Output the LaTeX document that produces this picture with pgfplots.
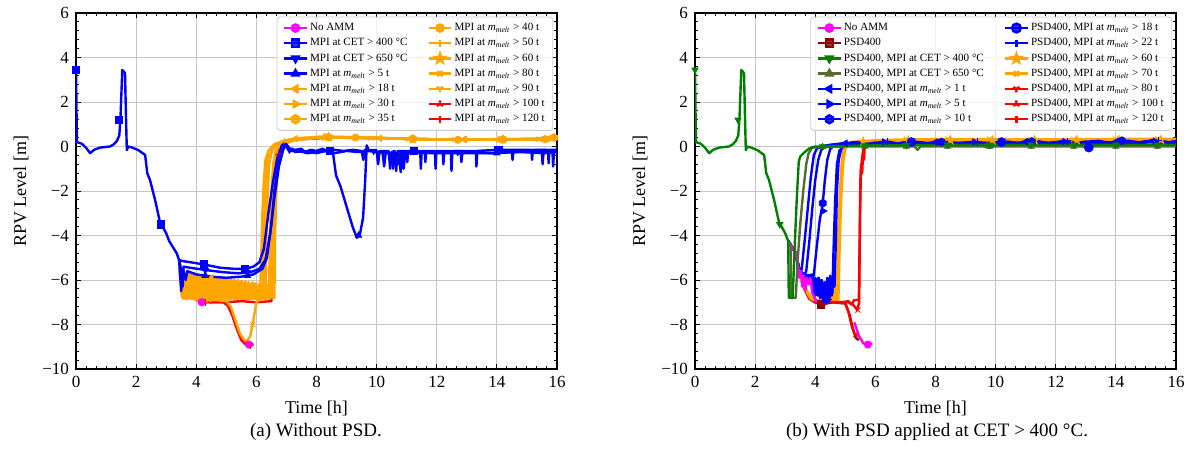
\documentclass[border=0pt]{standalone}
\usepackage{fontspec}
\setmainfont{Liberation Serif}
\usepackage{pgfplots}
\pgfplotsset{compat=1.18}
\usetikzlibrary{plotmarks}

\definecolor{cOr}{RGB}{255,165,0}
\definecolor{cDr}{RGB}{139,0,0}
\definecolor{cGr}{RGB}{0,128,0}
\definecolor{cOl}{RGB}{85,107,47}
\definecolor{cBl}{RGB}{0,0,255}
\definecolor{cMa}{RGB}{255,0,255}
\definecolor{cRe}{RGB}{255,0,0}

\pgfdeclareplotmark{hexagon*}{%
  \pgfpathmoveto{\pgfpointpolar{90}{1.1\pgfplotmarksize}}%
  \pgfpathlineto{\pgfpointpolar{150}{1.1\pgfplotmarksize}}%
  \pgfpathlineto{\pgfpointpolar{210}{1.1\pgfplotmarksize}}%
  \pgfpathlineto{\pgfpointpolar{270}{1.1\pgfplotmarksize}}%
  \pgfpathlineto{\pgfpointpolar{330}{1.1\pgfplotmarksize}}%
  \pgfpathlineto{\pgfpointpolar{30}{1.1\pgfplotmarksize}}%
  \pgfpathclose\pgfusepathqfillstroke}
\pgfdeclareplotmark{fstar*}{%
  \pgfpathmoveto{\pgfpointpolar{90}{1.25\pgfplotmarksize}}%
  \pgfpathlineto{\pgfpointpolar{126}{0.5\pgfplotmarksize}}%
  \pgfpathlineto{\pgfpointpolar{162}{1.25\pgfplotmarksize}}%
  \pgfpathlineto{\pgfpointpolar{198}{0.5\pgfplotmarksize}}%
  \pgfpathlineto{\pgfpointpolar{234}{1.25\pgfplotmarksize}}%
  \pgfpathlineto{\pgfpointpolar{270}{0.5\pgfplotmarksize}}%
  \pgfpathlineto{\pgfpointpolar{306}{1.25\pgfplotmarksize}}%
  \pgfpathlineto{\pgfpointpolar{342}{0.5\pgfplotmarksize}}%
  \pgfpathlineto{\pgfpointpolar{18}{1.25\pgfplotmarksize}}%
  \pgfpathlineto{\pgfpointpolar{54}{0.5\pgfplotmarksize}}%
  \pgfpathclose\pgfusepathqfillstroke}

\newcommand{\mm}{\textit{m}\textsubscript{\textit{melt}}}

\pgfplotsset{
  dl/.style={line width=1.2pt, mark=none, line join=round, forget plot},
  mk/.style={only marks, mark size=1.8pt, forget plot},
  li/.style={line width=1.2pt, mark size=1.8pt},
  rpv/.style={
    scale only axis, width=240.5pt, height=178pt,
    xmin=0, xmax=16, ymin=-10, ymax=6,
    xtick={0,2,...,16}, ytick={-10,-8,...,6},
    yticklabels={−10,−8,−6,−4,−2,0,2,4,6},
    minor x tick num=5, minor y tick num=4,
    tick align=inside,
    major tick length=2.6pt, minor tick length=1.4pt,
    tick style={black, line width=0.5pt},
    grid=major, grid style={black!22, line width=0.5pt},
    axis line style={line width=0.6pt},
    tick label style={font=\fontsize{8.5}{10}\selectfont},
    label style={font=\fontsize{9}{11}\selectfont},
    xlabel={Time [h]}, ylabel={RPV Level [m]},
    /pgf/number format/assume math mode=true,
    legend columns=2,
    legend cell align=left,
    legend style={at={(rel axis cs:0.992,0.99)}, anchor=north east,
      font=\fontsize{5.55}{6.2}\selectfont, draw=black!20, rounded corners=1.5pt,
      fill=white, fill opacity=0.8, text opacity=1,
      nodes={inner sep=1pt, text height=3.9pt, text depth=1.2pt},
      row sep=0.5pt,
      /tikz/every even column/.append style={column sep=9pt}},
    legend image code/.code={\draw[mark repeat=2,mark phase=2] plot coordinates {(0cm,0cm) (0.2cm,0cm) (0.4cm,0cm)};},
  }
}

\begin{document}
\begin{tikzpicture}
\useasboundingbox (0,0) rectangle (599.5pt,236pt);
%================= (a) =================
\begin{axis}[rpv, at={(38pt,51.5pt)}, anchor=south west]
\addlegendimage{cMa, li, mark=*}\addlegendentry{No AMM}
\addlegendimage{cOr, li, mark=*}\addlegendentry{MPI at \mm{} > 40 t}
\addlegendimage{cBl, li, mark=square*}\addlegendentry{MPI at CET > 400 °C}
\addlegendimage{cOr, li, mark=+}\addlegendentry{MPI at \mm{} > 50 t}
\addlegendimage{cBl, li, mark=triangle*, mark options={rotate=180}}\addlegendentry{MPI at CET > 650 °C}
\addlegendimage{cOr, li, mark=fstar*}\addlegendentry{MPI at \mm{} > 60 t}
\addlegendimage{cBl, li, mark=triangle*}\addlegendentry{MPI at \mm{} > 5 t}
\addlegendimage{cOr, li, mark=x}\addlegendentry{MPI at \mm{} > 80 t}
\addlegendimage{cOr, li, mark=triangle*, mark options={rotate=90}}\addlegendentry{MPI at \mm{} > 18 t}
\addlegendimage{cOr, li, mark=Mercedes star flipped}\addlegendentry{MPI at \mm{} > 90 t}
\addlegendimage{cOr, li, mark=triangle*, mark options={rotate=-90}}\addlegendentry{MPI at \mm{} > 30 t}
\addlegendimage{cRe, li, mark=Mercedes star}\addlegendentry{MPI at \mm{} > 100 t}
\addlegendimage{cOr, li, mark=hexagon*}\addlegendentry{MPI at \mm{} > 35 t}
\addlegendimage{cRe, li, mark=|}\addlegendentry{MPI at \mm{} > 120 t}

% No AMM
\addplot[cMa, dl] coordinates {(3.43,-5.1) (3.47,-5.9) (3.52,-5.6) (3.57,-6.3) (3.62,-5.8) (3.67,-6.5) (3.72,-5.9) (3.78,-6.2) (3.84,-5.9) (3.9,-6.6) (4.0,-6.85) (4.2,-7.0) (4.6,-6.95) (5.0,-7.0) (5.15,-7.3) (5.3,-7.9) (5.45,-8.5) (5.6,-8.85) (5.75,-8.9) (5.9,-8.85)};
\addplot[cMa, mk, mark=*] coordinates {(4.18,-7.0) (5.75,-8.9)};
% >100
\addplot[cRe, dl] coordinates {(3.43,-5.1) (3.55,-6.1) (3.75,-6.5) (4.0,-6.9) (4.5,-7.0) (5.0,-7.0) (5.5,-6.95) (6.0,-7.0) (6.5,-6.95) (6.58,-4.0) (6.65,-1.5) (6.73,-0.3) (6.85,0.1) (7.2,0.3) (8.5,0.4) (10,0.37) (12,0.32) (14,0.32) (16,0.34)};
\addplot[cRe, mk, mark=Mercedes star] coordinates {(4.4,-7.0) (6.73,-0.3)};
% >120
\addplot[cRe, dl] coordinates {(3.43,-5.1) (3.55,-6.0) (3.7,-6.4) (3.9,-6.7) (4.1,-6.95) (4.5,-7.0) (4.9,-7.0) (5.05,-7.15) (5.2,-7.6) (5.35,-8.2) (5.5,-8.7) (5.65,-8.9) (5.8,-8.95) (5.9,-8.9)};
\addplot[cRe, mk, mark=|] coordinates {(4.3,-7.0) (5.8,-8.95)};
% >80
\addplot[cOr, dl] coordinates {(3.43,-5.1) (3.55,-6.4) (3.8,-6.8) (4.2,-6.95) (4.6,-6.9) (5.0,-6.95) (5.15,-7.2) (5.3,-7.8) (5.45,-8.4) (5.6,-8.7) (5.7,-8.75) (5.8,-8.5) (5.9,-7.8) (6.0,-7.0) (6.1,-6.9) (6.2,-6.8) (6.25,-3.5) (6.32,-1.0) (6.4,-0.2) (6.6,0.1) (7.0,0.25) (8,0.4) (9,0.4) (10,0.37) (12,0.32) (14,0.32) (16,0.35)};
\addplot[cOr, mk, mark=x] coordinates {(4.4,-6.9) (5.88,-8.0) (7.0,0.25) (9.8,0.37) (12.6,0.32) (15.4,0.33)};
% >18
\addplot[cOr, dl] coordinates {(3.43,-5.1) (3.5,-6.3) (3.55,-5.7) (3.6,-6.8) (3.66,-5.7) (3.72,-6.85) (3.78,-5.75) (3.84,-6.85) (3.9,-5.8) (3.96,-6.85) (4.02,-5.8) (4.08,-6.8) (4.14,-5.85) (4.2,-6.85) (4.26,-5.85) (4.32,-6.85) (4.38,-5.9) (4.44,-6.85) (4.5,-5.9) (4.56,-6.85) (4.62,-5.95) (4.68,-6.85) (4.74,-5.95) (4.8,-6.85) (4.86,-6.0) (4.92,-6.85) (4.98,-6.0) (5.04,-6.85) (5.1,-6.05) (5.16,-6.85) (5.22,-6.05) (5.28,-6.85) (5.34,-6.1) (5.4,-6.85) (5.46,-6.1) (5.52,-6.85) (5.58,-6.15) (5.64,-6.85) (5.7,-6.15) (5.76,-6.85) (5.82,-6.2) (5.88,-6.85) (5.94,-6.2) (6.0,-6.85) (6.06,-6.3) (6.12,-6.85) (6.16,-5.0) (6.2,-3.0) (6.25,-1.5) (6.3,-0.6) (6.4,-0.2) (6.6,0.1) (6.9,0.25) (7.3,0.35) (8.0,0.4) (9.0,0.4) (10.0,0.38) (11.0,0.35) (12.0,0.32) (13.0,0.32) (14.0,0.33) (15.0,0.33) (16,0.35)};
\addplot[cOr, mk, mark=triangle*, mark options={rotate=90}] coordinates {(4.5,-5.9) (7.3,0.35) (10.1,0.37) (12.9,0.32) (15.7,0.34)};
% >30
\addplot[cOr, dl] coordinates {(3.43,-5.1) (3.53,-6.7) (3.57,-5.6) (3.63,-6.85) (3.69,-5.65) (3.75,-6.8) (3.81,-5.7) (3.87,-6.85) (3.93,-5.75) (3.99,-6.8) (4.05,-5.75) (4.11,-6.85) (4.17,-5.8) (4.23,-6.8) (4.29,-5.8) (4.35,-6.85) (4.41,-5.85) (4.47,-6.8) (4.53,-5.85) (4.59,-6.85) (4.65,-5.9) (4.71,-6.8) (4.77,-5.9) (4.83,-6.85) (4.89,-5.95) (4.95,-6.8) (5.01,-5.95) (5.07,-6.85) (5.13,-6.0) (5.19,-6.8) (5.25,-6.0) (5.31,-6.85) (5.37,-6.05) (5.43,-6.8) (5.49,-6.05) (5.55,-6.85) (5.61,-6.1) (5.67,-6.8) (5.73,-6.1) (5.79,-6.85) (5.85,-6.15) (5.91,-6.8) (5.97,-6.15) (6.03,-6.85) (6.09,-6.2) (6.15,-6.85) (6.21,-6.25) (6.27,-6.8) (6.31,-4.5) (6.35,-2.5) (6.4,-1.0) (6.47,-0.3) (6.6,0.0) (6.9,0.25) (7.4,0.38) (8.3,0.45) (9.2,0.42) (10.2,0.38) (11.2,0.33) (12.3,0.3) (13.5,0.32) (14.6,0.33) (16,0.35)};
\addplot[cOr, mk, mark=triangle*, mark options={rotate=-90}] coordinates {(5.0,-6.3) (8.3,0.45) (11.2,0.33) (14.1,0.33)};
% >35
\addplot[cOr, dl] coordinates {(3.43,-5.1) (3.51,-6.0) (3.56,-6.85) (3.62,-5.9) (3.68,-6.85) (3.74,-5.95) (3.8,-6.85) (3.86,-6.0) (3.92,-6.85) (3.98,-6.0) (4.04,-6.85) (4.1,-6.05) (4.16,-6.85) (4.22,-6.05) (4.28,-6.85) (4.34,-6.1) (4.4,-6.85) (4.46,-6.1) (4.52,-6.85) (4.58,-6.15) (4.64,-6.85) (4.7,-6.15) (4.76,-6.85) (4.82,-6.2) (4.88,-6.85) (4.94,-6.2) (5.0,-6.85) (5.06,-6.25) (5.12,-6.85) (5.18,-6.25) (5.24,-6.85) (5.3,-6.3) (5.36,-6.85) (5.42,-6.3) (5.48,-6.85) (5.54,-6.35) (5.6,-6.85) (5.66,-6.35) (5.72,-6.85) (5.78,-6.4) (5.84,-6.85) (5.9,-6.4) (5.96,-6.85) (6.02,-6.4) (6.08,-6.85) (6.14,-6.45) (6.2,-6.85) (6.26,-6.45) (6.32,-6.85) (6.38,-6.5) (6.42,-6.8) (6.45,-4.0) (6.5,-2.0) (6.56,-0.8) (6.65,-0.1) (6.8,0.15) (7.2,0.3) (8.0,0.42) (9.0,0.42) (10.0,0.4) (11.0,0.35) (12.0,0.32) (13.0,0.3) (14.0,0.32) (15.0,0.33) (16,0.4)};
\addplot[cOr, mk, mark=hexagon*] coordinates {(5.4,-6.6) (8.4,0.42) (11.2,0.35) (14.2,0.32) (15.9,0.4)};
% >40
\addplot[cOr, dl] coordinates {(3.43,-5.1) (3.47,-6.0) (3.53,-6.8) (3.59,-5.6) (3.65,-6.85) (3.71,-5.65) (3.77,-6.8) (3.83,-5.7) (3.89,-6.85) (3.95,-5.7) (4.01,-6.8) (4.07,-5.75) (4.13,-6.85) (4.19,-5.75) (4.25,-6.8) (4.31,-5.8) (4.37,-6.85) (4.43,-5.8) (4.49,-6.8) (4.55,-5.85) (4.61,-6.85) (4.67,-5.85) (4.73,-6.8) (4.79,-5.9) (4.85,-6.85) (4.91,-5.9) (4.97,-6.8) (5.03,-5.95) (5.09,-6.85) (5.15,-5.95) (5.21,-6.8) (5.27,-6.0) (5.33,-6.85) (5.39,-6.0) (5.45,-6.8) (5.51,-6.05) (5.57,-6.85) (5.63,-6.05) (5.69,-6.8) (5.75,-6.1) (5.81,-6.85) (5.87,-6.1) (5.93,-6.8) (5.99,-6.15) (6.05,-6.85) (6.11,-6.15) (6.17,-6.8) (6.23,-6.2) (6.29,-6.85) (6.35,-6.2) (6.41,-6.8) (6.47,-6.25) (6.52,-6.8) (6.55,-4.5) (6.6,-2.5) (6.65,-1.0) (6.72,-0.3) (6.85,0.05) (7.1,0.25) (7.6,0.38) (8.5,0.42) (9.5,0.4) (10.5,0.36) (11.5,0.32) (12.5,0.3) (13.5,0.31) (14.5,0.32) (15.5,0.33) (16,0.36)};
\addplot[cOr, mk, mark=*] coordinates {(5.9,-6.4) (9.3,0.4) (12.7,0.3) (15.6,0.33)};
% >50
\addplot[cOr, dl] coordinates {(3.43,-5.1) (3.6,-6.5) (3.8,-6.0) (4.0,-6.7) (4.3,-6.2) (4.6,-6.8) (4.9,-6.3) (5.2,-6.8) (5.5,-6.4) (5.8,-6.85) (6.1,-6.5) (6.3,-6.85) (6.35,-3.0) (6.42,-0.8) (6.55,0.0) (6.8,0.2) (7.5,0.35) (8.5,0.4) (10,0.38) (12,0.32) (14,0.32) (16,0.34)};
\addplot[cOr, mk, mark=+] coordinates {(4.6,-6.8) (8.5,0.4) (13.0,0.32)};
% >60
\addplot[cOr, dl] coordinates {(3.43,-5.1) (3.55,-6.2) (3.75,-6.8) (4.0,-6.1) (4.25,-6.85) (4.5,-6.3) (4.75,-6.85) (5.0,-6.4) (5.3,-6.85) (5.6,-6.5) (5.9,-6.85) (6.2,-6.6) (6.45,-6.85) (6.5,-3.5) (6.58,-1.0) (6.7,-0.1) (6.9,0.2) (7.5,0.35) (8.5,0.42) (10,0.38) (12,0.3) (14,0.31) (16,0.33)};
\addplot[cOr, mk, mark=fstar*] coordinates {(5.0,-6.4) (8.4,0.42) (11.2,0.33) (14.2,0.31)};
% >90
\addplot[cOr, dl] coordinates {(3.43,-5.1) (3.6,-6.0) (3.9,-6.6) (4.2,-6.2) (4.5,-6.8) (4.8,-6.4) (5.1,-6.85) (5.4,-6.5) (5.7,-6.85) (6.0,-6.6) (6.3,-6.85) (6.5,-6.7) (6.6,-6.8) (6.62,-4.0) (6.68,-1.5) (6.75,-0.3) (6.9,0.1) (7.3,0.3) (8.2,0.42) (9.5,0.4) (11,0.34) (13,0.3) (15,0.32) (16,0.36)};
\addplot[cOr, mk, mark=Mercedes star flipped] coordinates {(5.1,-6.85) (8.2,0.42) (11.0,0.34) (14.0,0.31)};
% CET>650
\addplot[cBl, dl] coordinates {(3.43,-5.1) (3.5,-5.6) (3.55,-6.3) (3.58,-5.4) (3.8,-5.45) (4.3,-5.55) (4.9,-5.65) (5.4,-5.7) (5.8,-5.65) (6.1,-5.5) (6.3,-5.1) (6.45,-4.0) (6.6,-2.3) (6.75,-0.9) (6.9,-0.1) (7.0,0.1) (7.15,-0.2) (7.4,-0.2) (7.7,-0.3) (8.0,-0.25) (8.3,-0.2) (8.6,-0.3) (9.0,-0.2) (9.4,-0.25) (9.8,-0.2) (10.2,-0.3) (10.25,-0.9) (10.3,-0.3) (10.75,-0.3) (10.8,-1.15) (10.85,-0.3) (10.9,-1.0) (10.95,-0.3) (11.6,-0.25) (11.62,-0.7) (11.65,-0.25) (12.2,-0.25) (12.22,-0.8) (12.25,-0.25) (13.0,-0.25) (13.8,-0.3) (14.5,-0.25) (14.52,-0.6) (14.55,-0.25) (15.4,-0.2) (15.85,-0.25) (15.87,-0.9) (15.9,-0.25) (16,-0.2)};
\addplot[cBl, mk, mark=triangle*, mark options={rotate=180}] coordinates {(4.3,-5.55) (5.7,-5.65) (7.1,-0.15) (9.9,-0.2) (12.7,-0.25) (15.5,-0.2)};
% mmelt>5
\addplot[cBl, dl] coordinates {(3.43,-5.1) (3.5,-6.5) (3.55,-5.5) (3.65,-6.0) (3.7,-5.6) (4.0,-5.75) (4.5,-5.85) (5.0,-5.9) (5.5,-5.85) (5.9,-5.75) (6.2,-5.5) (6.35,-5.0) (6.5,-3.5) (6.6,-2.0) (6.7,-1.0) (6.8,-0.4) (6.95,0.05) (7.1,-0.1) (7.3,-0.25) (7.6,-0.2) (8.0,-0.3) (8.3,-0.2) (8.55,-0.3) (8.65,-1.3) (8.8,-1.8) (9.0,-2.7) (9.2,-3.6) (9.34,-4.1) (9.45,-3.9) (9.55,-3.2) (9.62,-1.5) (9.67,0.05) (9.75,-0.2) (10.1,-0.25) (10.5,-0.3) (10.55,-1.0) (10.6,-0.3) (10.75,-0.8) (10.8,-0.3) (11.2,-0.25) (11.8,-0.3) (12.8,-0.3) (12.82,-0.7) (12.85,-0.3) (13.8,-0.3) (14.8,-0.25) (15.5,-0.3) (15.52,-0.8) (15.55,-0.3) (16,-0.25)};
\addplot[cBl, mk, mark=triangle*] coordinates {(4.3,-5.8) (5.7,-5.8) (9.4,-4.0) (11.2,-0.25) (14.0,-0.3)};
% CET>400
\addplot[cBl, dl] coordinates {(3.43,-5.1) (3.55,-5.15) (3.8,-5.2) (4.25,-5.3) (4.8,-5.45) (5.3,-5.5) (5.63,-5.5) (5.9,-5.4) (6.1,-5.2) (6.25,-4.6) (6.4,-3.0) (6.55,-1.6) (6.7,-0.5) (6.85,0.05) (6.95,0.15) (7.1,-0.1) (7.3,-0.15) (7.5,-0.1) (7.6,-0.25) (7.8,-0.15) (8.0,-0.2) (8.2,-0.1) (8.4,-0.25) (8.6,-0.15) (8.9,-0.2) (9.2,-0.15) (9.5,-0.2) (9.56,-0.6) (9.6,-0.15) (10.0,-0.2) (10.05,-0.8) (10.1,-0.2) (10.4,-0.2) (10.45,-1.0) (10.5,-0.25) (10.6,-0.2) (10.65,-1.1) (10.7,-0.2) (11.0,-0.2) (11.02,-0.7) (11.05,-0.2) (11.45,-0.2) (11.47,-1.0) (11.5,-0.2) (11.94,-0.2) (11.96,-1.0) (11.99,-0.2) (12.47,-0.2) (12.49,-1.1) (12.52,-0.2) (13.3,-0.2) (13.32,-0.9) (13.35,-0.2) (14.0,-0.15) (15.15,-0.15) (15.17,-0.6) (15.2,-0.15) (15.7,-0.15) (15.72,-0.75) (15.75,-0.15) (16,-0.15)};
\addplot[cBl, mk, mark=square*] coordinates {(4.25,-5.3) (5.63,-5.5) (8.45,-0.2) (11.25,-0.2) (14.05,-0.15)};
% base
\addplot[cBl, dl] coordinates {(0,3.45) (0.03,0.2) (0.2,0.12) (0.35,-0.08) (0.47,-0.3) (0.6,-0.15) (0.8,-0.05) (1.13,0.0) (1.26,0.1) (1.36,0.25) (1.44,0.5) (1.48,1.3) (1.54,3.44) (1.63,3.3) (1.66,1.5) (1.69,-0.16) (1.74,0.0) (1.85,-0.04) (2.07,-0.16) (2.3,-0.38) (2.37,-1.2) (2.46,-1.5) (2.63,-2.4) (2.79,-3.38) (3.0,-3.9) (3.1,-4.25) (3.35,-4.8) (3.43,-5.1)};
\addplot[cBl, mk, mark=square*] coordinates {(0,3.45) (1.43,1.2) (2.82,-3.5)};
\end{axis}
%================= (b) =================
\begin{axis}[rpv, at={(347.5pt,51.5pt)}, anchor=south west]
\addlegendimage{cMa, li, mark=*}\addlegendentry{No AMM}
\addlegendimage{cBl, li, mark=*, mark size=2.2pt}\addlegendentry{PSD400, MPI at \mm{} > 18 t}
\addlegendimage{cDr, li, mark=square*}\addlegendentry{PSD400}
\addlegendimage{cBl, li, mark=+}\addlegendentry{PSD400, MPI at \mm{} > 22 t}
\addlegendimage{cGr, li, mark=triangle*, mark options={rotate=180}}\addlegendentry{PSD400, MPI at CET > 400 °C}
\addlegendimage{cOr, li, mark=fstar*}\addlegendentry{PSD400, MPI at \mm{} > 60 t}
\addlegendimage{cOl, li, mark=triangle*}\addlegendentry{PSD400, MPI at CET > 650 °C}
\addlegendimage{cOr, li, mark=x}\addlegendentry{PSD400, MPI at \mm{} > 70 t}
\addlegendimage{cBl, li, mark=triangle*, mark options={rotate=90}}\addlegendentry{PSD400, MPI at \mm{} > 1 t}
\addlegendimage{cRe, li, mark=Mercedes star flipped}\addlegendentry{PSD400, MPI at \mm{} > 80 t}
\addlegendimage{cBl, li, mark=triangle*, mark options={rotate=-90}}\addlegendentry{PSD400, MPI at \mm{} > 5 t}
\addlegendimage{cRe, li, mark=Mercedes star}\addlegendentry{PSD400, MPI at \mm{} > 100 t}
\addlegendimage{cBl, li, mark=hexagon*}\addlegendentry{PSD400, MPI at \mm{} > 10 t}
\addlegendimage{cRe, li, mark=|}\addlegendentry{PSD400, MPI at \mm{} > 120 t}

% PSD400
\addplot[cDr, dl] coordinates {(3.1,-4.25) (3.35,-4.8) (3.43,-5.3) (3.6,-6.2) (3.85,-6.8) (4.0,-7.0) (4.2,-7.1) (4.6,-7.0) (5.0,-7.05) (5.15,-7.6) (5.25,-8.2) (5.35,-8.6) (5.45,-8.7)};
\addplot[cDr, mk, mark=square*] coordinates {(4.2,-7.1)};
% >100
\addplot[cRe, dl] coordinates {(3.1,-4.25) (3.35,-4.8) (3.43,-5.3) (3.6,-6.2) (3.8,-6.8) (4.0,-7.0) (4.5,-7.0) (5.0,-7.05) (5.1,-7.4) (5.2,-8.0) (5.3,-8.4) (5.38,-8.5)};
\addplot[cRe, mk, mark=x] coordinates {(5.35,-8.45)};
% >120
\addplot[cRe, dl] coordinates {(3.1,-4.25) (3.35,-4.8) (3.43,-5.3) (3.6,-6.3) (3.8,-6.85) (4.0,-7.0) (4.4,-6.95) (4.8,-7.0) (5.1,-7.0) (5.25,-7.1) (5.4,-7.35) (5.46,-7.0) (5.49,-3.0) (5.52,-1.0) (5.56,-0.5) (5.62,0.1) (6.0,0.15) (8,0.18) (10,0.2) (12,0.2) (14,0.2) (16,0.2)};
\addplot[cRe, mk, mark=x] coordinates {(5.42,-7.35)};
% >80
\addplot[cRe, dl] coordinates {(3.1,-4.25) (3.35,-4.8) (3.43,-5.3) (3.6,-6.2) (3.8,-6.8) (4.0,-7.0) (4.3,-7.0) (4.6,-6.95) (4.9,-7.0) (5.1,-6.95) (5.2,-7.1) (5.3,-6.9) (5.45,-6.9) (5.48,-4.0) (5.5,-1.5) (5.53,-0.8) (5.56,-1.2) (5.59,-0.3) (5.62,-0.6) (5.65,0.1) (5.8,0.15) (6.5,0.18) (8,0.18) (10,0.2) (12,0.2) (14,0.2) (16,0.2)};
\addplot[cRe, mk, mark=Mercedes star flipped] coordinates {(4.35,-7.0)};
% >60
\addplot[cOr, dl] coordinates {(3.1,-4.25) (3.35,-4.8) (3.43,-5.3) (3.55,-6.0) (3.7,-6.4) (3.85,-6.8) (4.0,-6.9) (4.2,-6.95) (4.3,-6.6) (4.36,-6.9) (4.42,-6.3) (4.48,-6.9) (4.54,-6.2) (4.6,-6.9) (4.66,-6.0) (4.72,-6.9) (4.76,-4.0) (4.82,-2.0) (4.88,-0.7) (4.95,-0.1) (5.1,0.15) (5.5,0.22) (6.5,0.25) (8,0.28) (10,0.28) (12,0.28) (14,0.3) (16,0.3)};
\addplot[cOr, mk, mark=fstar*] coordinates {(5.6,0.22) (7.1,0.27) (8.5,0.28) (9.9,0.28) (11.3,0.28) (12.7,0.29) (14.1,0.3) (15.5,0.3)};
% >70
\addplot[cOr, dl] coordinates {(3.1,-4.25) (3.35,-4.8) (3.43,-5.3) (3.55,-6.1) (3.7,-6.5) (3.85,-6.85) (4.0,-6.9) (4.2,-6.9) (4.35,-6.5) (4.41,-6.9) (4.47,-6.2) (4.53,-6.9) (4.59,-6.1) (4.65,-6.9) (4.71,-6.0) (4.77,-6.9) (4.82,-4.0) (4.88,-1.8) (4.94,-0.6) (5.0,-0.1) (5.2,0.2) (6,0.28) (7,0.32) (8,0.33) (10,0.33) (12,0.32) (14,0.34) (16,0.35)};
\addplot[cOr, mk, mark=x] coordinates {(7.03,0.35) (8.4,0.35) (9.8,0.35) (11.18,0.33) (12.6,0.33) (14.0,0.35) (15.4,0.35)};
% >22
\addplot[cBl, dl] coordinates {(3.1,-4.25) (3.35,-4.8) (3.43,-5.3) (3.5,-5.6) (3.65,-5.75) (3.8,-5.8) (3.9,-5.75) (3.95,-6.5) (4.0,-5.9) (4.05,-6.6) (4.1,-5.9) (4.15,-6.8) (4.2,-6.0) (4.25,-6.85) (4.3,-6.1) (4.35,-6.8) (4.4,-5.9) (4.45,-6.85) (4.5,-5.8) (4.55,-6.7) (4.6,-5.9) (4.64,-6.3) (4.68,-4.5) (4.72,-2.0) (4.78,-0.6) (4.87,-0.1) (5.0,0.1) (5.4,0.2) (5.9,0.08) (6.4,0.22) (6.9,0.1) (7.4,0.2) (7.9,0.12) (8.4,0.22) (8.9,0.1) (9.4,0.2) (9.9,0.08) (10.4,0.22) (10.9,0.12) (11.4,0.24) (11.9,0.12) (12.4,0.24) (12.9,0.14) (13.4,0.26) (13.9,0.14) (14.4,0.26) (14.9,0.16) (15.4,0.28) (15.9,0.16) (16,0.2)};
\addplot[cBl, mk, mark=+] coordinates {(4.45,-6.85) (6.4,0.22) (9.4,0.2) (12.4,0.24) (15.4,0.28)};
% >18
\addplot[cBl, dl] coordinates {(3.1,-4.25) (3.35,-4.8) (3.43,-5.3) (3.5,-5.65) (3.65,-5.8) (3.8,-5.85) (3.92,-5.8) (3.97,-6.8) (4.02,-6.0) (4.07,-6.7) (4.12,-5.9) (4.17,-6.8) (4.22,-6.0) (4.27,-6.9) (4.32,-6.1) (4.37,-6.85) (4.42,-6.0) (4.47,-6.8) (4.52,-5.9) (4.57,-6.6) (4.6,-5.0) (4.66,-2.5) (4.72,-0.8) (4.8,-0.2) (4.95,0.05) (5.2,0.12) (5.7,0.02) (6.2,0.18) (6.7,0.06) (7.2,0.2) (7.7,0.08) (8.2,0.2) (8.7,0.06) (9.2,0.2) (9.7,-0.02) (10.2,0.2) (10.7,0.1) (11.2,0.22) (11.7,0.1) (12.2,0.22) (12.7,0.1) (13.1,-0.07) (13.3,0.22) (13.7,0.12) (14.2,0.24) (14.7,0.12) (15.2,0.26) (15.7,0.14) (16,0.25)};
\addplot[cBl, mk, mark=*, mark size=2.2pt] coordinates {(4.37,-6.85) (7.2,0.2) (10.2,0.2) (13.1,-0.05)};
% >10
\addplot[cBl, dl] coordinates {(3.1,-4.25) (3.35,-4.8) (3.43,-5.3) (3.5,-5.7) (3.6,-5.9) (3.8,-5.95) (3.95,-5.8) (4.05,-4.5) (4.15,-3.3) (4.25,-2.55) (4.32,-1.5) (4.4,-0.6) (4.5,-0.1) (4.7,0.1) (5.2,0.18) (5.7,0.06) (6.2,0.2) (6.7,0.1) (7.2,0.2) (7.7,0.08) (8.2,0.2) (8.7,0.1) (9.2,0.2) (9.7,0.08) (10.2,0.2) (10.7,0.12) (11.2,0.22) (11.7,0.12) (12.2,0.24) (12.7,0.12) (13.2,0.24) (13.7,0.14) (14.2,0.26) (14.7,0.14) (15.2,0.28) (15.7,0.16) (16,0.22)};
\addplot[cBl, mk, mark=hexagon*] coordinates {(4.25,-2.55) (8.2,0.2) (11.2,0.22) (14.2,0.26)};
% >5
\addplot[cBl, dl] coordinates {(3.1,-4.25) (3.35,-4.8) (3.43,-5.3) (3.5,-5.8) (3.6,-5.9) (3.7,-5.6) (3.8,-4.3) (3.9,-2.8) (4.0,-1.5) (4.1,-0.6) (4.2,-0.15) (4.4,0.05) (5.0,0.1) (5.3,0.2) (5.8,0.08) (6.3,0.2) (6.8,0.1) (7.3,0.22) (7.8,0.12) (8.3,0.2) (8.8,0.1) (9.3,0.2) (9.8,-0.05) (10.3,0.2) (10.8,0.12) (11.3,0.22) (11.8,0.12) (12.3,0.22) (12.8,0.12) (13.3,0.24) (13.8,0.12) (14.3,0.24) (14.8,0.14) (15.3,0.25) (15.8,0.14) (16,0.22)};
\addplot[cBl, mk, mark=triangle*, mark options={rotate=-90}] coordinates {(4.27,-2.9) (6.3,0.2) (9.3,0.2) (12.3,0.22) (15.3,0.25)};
% >1
\addplot[cBl, dl] coordinates {(3.1,-4.25) (3.35,-4.8) (3.42,-5.4) (3.5,-5.75) (3.55,-5.5) (3.65,-4.2) (3.75,-2.8) (3.85,-1.4) (3.95,-0.4) (4.05,-0.1) (4.2,0.0) (4.5,0.08) (5.0,0.15) (5.5,0.05) (6.0,0.18) (6.5,0.08) (7.0,0.2) (7.5,0.1) (8.0,0.2) (8.5,0.08) (9.0,0.18) (9.5,0.05) (9.8,0.0) (10.0,0.18) (10.5,0.1) (11,0.22) (11.5,0.1) (12,0.2) (12.5,0.1) (13,0.22) (13.5,0.12) (14,0.22) (14.5,0.1) (15,0.24) (15.5,0.12) (16,0.25)};
\addplot[cBl, mk, mark=triangle*, mark options={rotate=90}] coordinates {(5.0,0.15) (8.0,0.2) (11.0,0.22) (14.0,0.22)};
% No AMM
\addplot[cMa, dl] coordinates {(3.1,-4.25) (3.35,-4.8) (3.43,-5.3) (3.47,-5.9) (3.52,-5.6) (3.57,-6.3) (3.62,-5.8) (3.67,-6.5) (3.72,-5.9) (3.78,-6.2) (3.84,-5.9) (3.9,-6.6) (4.0,-6.85) (4.05,-7.0)};
\addplot[cMa, dl] coordinates {(5.3,-7.9) (5.45,-8.5) (5.6,-8.85) (5.75,-8.9) (5.9,-8.85)};
\addplot[cMa, mk, mark=*] coordinates {(5.75,-8.9)};
% CET>650
\addplot[cOl, dl] coordinates {(3.1,-4.25) (3.18,-4.5) (3.2,-6.8) (3.35,-6.8) (3.42,-5.0) (3.5,-3.5) (3.6,-2.0) (3.7,-0.8) (3.78,-0.3) (3.9,-0.05) (4.2,-0.02) (5.0,0.0) (6.0,0.0) (7.3,0.0) (7.4,-0.15) (7.5,0.0) (9,0.0) (11,0.0) (13,0.0) (16,0.0)};
\addplot[cOl, mk, mark=triangle*] coordinates {(4.25,-0.02) (5.65,0.0) (7.03,0.0) (8.4,0.0) (9.8,0.0) (11.18,0.0) (12.6,0.0) (14.0,0.0) (15.38,0.0)};
% CET>400
\addplot[cGr, dl] coordinates {(3.1,-4.25) (3.12,-6.8) (3.25,-6.8) (3.3,-5.0) (3.38,-2.5) (3.45,-0.7) (3.5,-0.45) (3.65,-0.25) (3.82,-0.07) (4.0,0.0) (4.25,0.0) (5.0,0.03) (6,0.05) (7,0.06) (8,0.07) (9,0.07) (10,0.07) (11,0.08) (12,0.08) (13,0.08) (14,0.08) (15,0.08) (16,0.08)};
\addplot[cGr, mk, mark=triangle*, mark options={rotate=180}] coordinates {(4.25,0.0) (5.65,0.04) (7.03,0.06) (8.4,0.07) (9.8,0.07) (11.18,0.08) (12.6,0.08) (14.0,0.08) (15.38,0.08)};
% base
\addplot[cGr, dl] coordinates {(0,3.45) (0.03,0.2) (0.2,0.12) (0.35,-0.08) (0.47,-0.3) (0.6,-0.15) (0.8,-0.05) (1.13,0.0) (1.26,0.1) (1.36,0.25) (1.44,0.5) (1.48,1.3) (1.54,3.44) (1.63,3.3) (1.66,1.5) (1.69,-0.16) (1.74,0.0) (1.85,-0.04) (2.07,-0.16) (2.3,-0.38) (2.37,-1.2) (2.46,-1.5) (2.63,-2.4) (2.79,-3.38) (3.0,-3.9) (3.1,-4.25)};
\addplot[cGr, mk, mark=triangle*, mark options={rotate=180}] coordinates {(0,3.45) (1.43,1.2) (2.82,-3.5)};
\end{axis}
\node[font=\fontsize{9.5}{11}\selectfont] at (158pt,20pt) {(a) Without PSD.};
\node[font=\fontsize{9.5}{11}\selectfont] at (468.5pt,20pt) {(b) With PSD applied at CET > 400 °C.};
\end{tikzpicture}
\end{document}
